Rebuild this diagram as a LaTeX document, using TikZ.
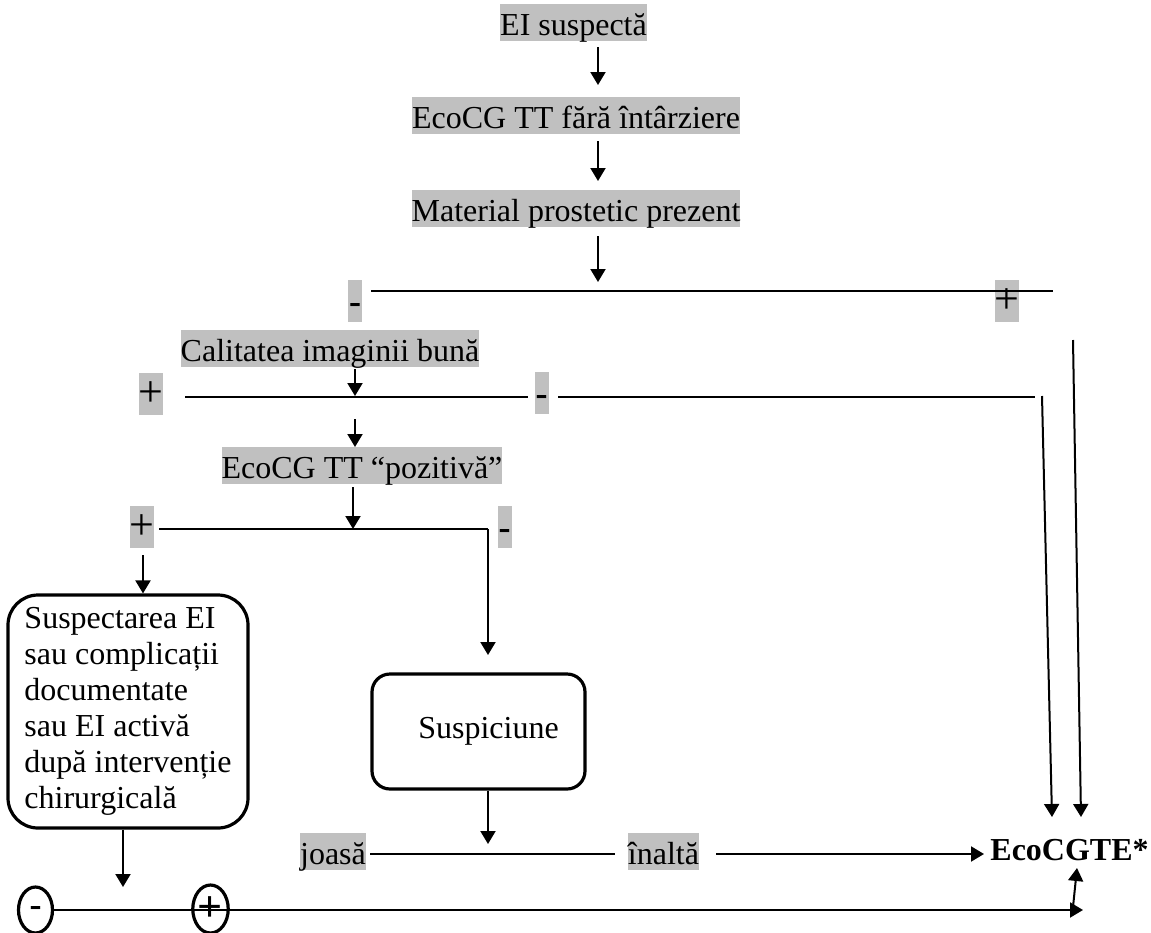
\documentclass[tikz,border=0pt]{standalone}
\usepackage{fontspec}
\setmainfont{Liberation Serif}
\usetikzlibrary{arrows.meta,shapes.geometric}
\definecolor{hlgray}{RGB}{192,192,192}
\begin{document}
\begin{tikzpicture}[x=0.5pt,y=-0.5pt,
  font=\fontsize{16}{18}\selectfont,
  hl/.style={fill=hlgray,inner xsep=0pt,inner ysep=0pt,text height=15.5pt,text depth=3pt},
  sgn/.style={fill=hlgray,inner xsep=0pt,inner ysep=0pt,text height=16.5pt,text depth=4.5pt,minimum width=7pt,font=\fontsize{18}{18}\selectfont\bfseries},
  sgp/.style={fill=hlgray,inner xsep=0pt,inner ysep=0pt,text height=16.5pt,text depth=4.5pt,minimum width=11pt,font=\fontsize{22}{22}\selectfont},
  ln/.style={line width=1pt},
  arr/.style={line width=1pt,-{Triangle[width=7.5pt,length=6.5pt]}},
  rbox/.style={draw,line width=1.6pt},
  oval/.style={draw,ellipse,line width=1.6pt,inner sep=0pt,minimum width=17pt,minimum height=23pt,font=\fontsize{18}{18}\selectfont\bfseries}]
\useasboundingbox (0,0) rectangle (1151,932);

% main text nodes
\node[hl] (ei) at (573.5,22.5) {EI suspectă};
\node[hl] (tt) at (576,115.5) {EcoCG TT fără întârziere};
\node[hl] (mat) at (576,208.5) {Material prostetic prezent};
\node[sgn] (m1) at (355,301) {-};
\node[sgp] (p1) at (1007,301) {+};
\node[hl] (cal) at (330,348.5) {Calitatea imaginii bună};
\node[sgp] (p2) at (151,394) {+};
\node[sgn] (m2) at (541.5,393) {-};
\node[hl] (poz) at (362,465.5) {EcoCG TT “pozitivă”};
\node[sgp] (p3) at (142,527) {+};
\node[sgn] (m3) at (504.5,527) {-};
\node[rbox,rounded corners=15pt,minimum width=120pt,minimum height=116.5pt,align=left,inner sep=0pt] (susp) at (128,711.5)
  {Suspectarea EI\\sau complicații\\documentate\\sau EI activă\\după intervenție\\chirurgicală};
\node[rbox,rounded corners=9pt,minimum width=106.5pt,minimum height=57.5pt,inner sep=0pt] (sus) at (478.5,731.5)
  {\hspace*{10pt}Suspiciune};
\node[hl] (jo) at (333,851.5) {joasă};
\node[hl] (in) at (663.5,851.5) {înaltă};
\node[anchor=base west,inner sep=0pt,font=\fontsize{16}{18}\selectfont\bfseries] (eco) at (990,860) {EcoCGTE*};

% coordinates
\coordinate (a1s) at (598,47);   \coordinate (a1e) at (598,85);
\coordinate (a2s) at (598,141);  \coordinate (a2e) at (598,181);
\coordinate (a3s) at (598,236);  \coordinate (a3e) at (598,282);
\coordinate (l1a) at (371,291);  \coordinate (l1b) at (1053,291);
\coordinate (a4s) at (355,369);  \coordinate (a4e) at (355,396);
\coordinate (l2a) at (185,397);  \coordinate (l2b) at (528,397);
\coordinate (l2c) at (558,397);  \coordinate (l2d) at (1035,397);
\coordinate (a5s) at (355,419);  \coordinate (a5e) at (355,447);
\coordinate (a6s) at (353,487);  \coordinate (a6e) at (353,529);
\coordinate (l3a) at (159,529);  \coordinate (l3b) at (488,529);
\coordinate (a7e) at (488,655);
\coordinate (a8s) at (143,555);
\coordinate (r1s) at (1042,396); \coordinate (r1e) at (1052,817);
\coordinate (r2s) at (1073,340); \coordinate (r2e) at (1081,817);
\coordinate (l4a) at (370,854);  \coordinate (l4b) at (615,854);
\coordinate (l4c) at (716,854);  \coordinate (l4d) at (984,854);
\coordinate (bend) at (1083,910);
\coordinate (ups) at (1073,907); \coordinate (upe) at (1077,868);

% connectors
\draw[arr] (a1s) -- (a1e);
\draw[arr] (a2s) -- (a2e);
\draw[arr] (a3s) -- (a3e);
\draw[ln] (l1a) -- (l1b);
\draw[arr] (a4s) -- (a4e);
\draw[ln] (l2a) -- (l2b);
\draw[ln] (l2c) -- (l2d);
\draw[arr] (a5s) -- (a5e);
\draw[arr] (a6s) -- (a6e);
\draw[ln] (l3a) -- (l3b);
\draw[arr] (l3b) -- (a7e);
\draw[arr] (a8s) -- (susp.north -| a8s);
\draw[arr] (r1s) -- (r1e);
\draw[arr] (r2s) -- (r2e);
\draw[ln] (l4a) -- (l4b);
\draw[arr] (l4c) -- (l4d);
\draw[arr] (sus.south -| 488,0) -- (488,844);

% bottom row
\node[oval] (cm) at (35.5,910) {\raisebox{-6pt}{-}};
\node[oval,minimum width=16.5pt,minimum height=24pt,font=\fontsize{22}{22}\selectfont\bfseries] (cp) at (210.5,909) {+};
\draw[arr] (susp.south -| 123,0) -- (123,887);
\draw[arr] (cm.east |- bend) -- (bend);
\draw[arr] (ups) -- (upe);
\end{tikzpicture}
\end{document}
